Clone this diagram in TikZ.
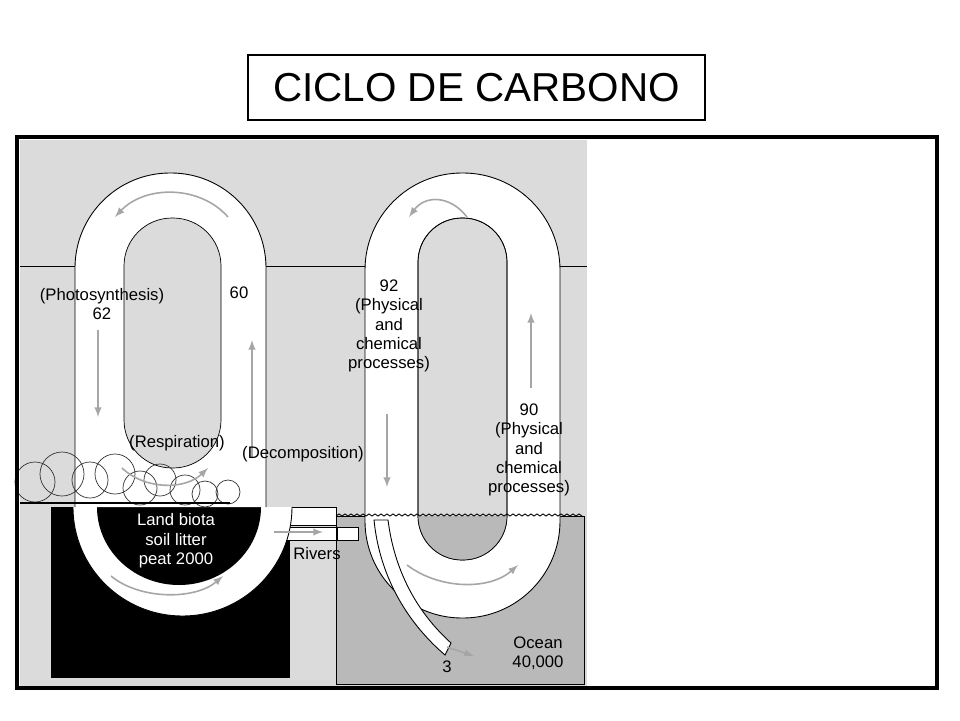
\documentclass[tikz,border=0pt]{standalone}
\usepackage{fontspec}
\setmainfont{Liberation Sans}
\begin{document}
\begin{tikzpicture}[x=0.02cm,y=-0.02cm,
  lbl/.style={font=\fontsize{9.5}{11}\selectfont,inner sep=0pt,align=center},
  flow/.style={gray!70,line width=0.9pt,-latex},
  band/.style={fill=white,draw=black,line width=0.5pt}]
\useasboundingbox (0,0) rectangle (960,720);
% title and frame
\node[draw,line width=1.5pt,minimum width=457*0.02cm,minimum height=65*0.02cm,font=\fontsize{23}{26}\selectfont] (title) at (476.5,87.5) {CICLO DE CARBONO};
\fill[gray!28] (20,140) rectangle (587,686);
\draw[line width=0.5pt] (20,266) -- (587,266);
% ground and ocean
\fill[black] (51,507) rectangle (290,678);
\draw[band] (290,507) rectangle (336,525);
\draw[band] (261,527) rectangle (337,540);
\draw[fill=gray!55] (336,516) rectangle (584,684);
\draw[band] (337,527) rectangle (358,540);
% left loop
\draw[band] (73,507) arc[start angle=180,end angle=0,x radius=109.5,y radius=109];
\fill[black] (97,507) arc[start angle=180,end angle=0,x radius=82,y radius=78] -- cycle;
\draw[band,rounded corners=1.9cm] (75,507) -- (75,173) -- (266,173) -- (266,507);
\draw[fill=gray!28,rounded corners=0.96cm] (124,218) rectangle (221,468);
% right loop
\draw[band,rounded corners=1.94cm] (365,173) rectangle (560,618);
\draw[fill=gray!28,rounded corners=0.88cm] (418,218) rectangle (507,560);
\begin{scope}
  \clip (418,516) rectangle (507,560);
  \fill[gray!55,rounded corners=0.88cm] (418,218) rectangle (507,560);
\end{scope}
\draw[rounded corners=0.88cm] (418,218) rectangle (507,560);
\draw[line width=0.5pt] (336,516) \foreach \i in {1,...,41} {-- ++(3,-2) -- ++(3,2)};
% downwelling tube
\draw[band] (374,520) .. controls (380,580) and (410,625) .. (445,655) -- (451,643) .. controls (420,615) and (395,575) .. (388,520) -- cycle;
% plants
\foreach \cx/\cy/\r in {35/482/20,62/474/22,90/480/18,115/474/20,140/488/17,160/480/16,185/490/15,205/494/13,228/492/12}
  \draw[line width=0.4pt,gray!40!black] (\cx,\cy) circle (\r);
\draw[line width=0.6pt] (20,503) -- (230,503);
% coordinates for flows
\coordinate (p1) at (98,330);  \coordinate (p2) at (98,417);
\coordinate (d1) at (252,458); \coordinate (d2) at (252,340);
\coordinate (o1) at (387,414); \coordinate (o2) at (387,487);
\coordinate (u1) at (531,388); \coordinate (u2) at (531,313);
\coordinate (lt1) at (228,217); \coordinate (lt2) at (115,217);
\coordinate (rt1) at (467,217); \coordinate (rt2) at (409,217);
\coordinate (lb1) at (111,576); \coordinate (lb2) at (223,576);
\coordinate (rb1) at (407,565); \coordinate (rb2) at (518,565);
\coordinate (rs1) at (122,468); \coordinate (rs2) at (208,468);
\coordinate (rv1) at (274,532); \coordinate (rv2) at (323,532);
\coordinate (dw1) at (447,647); \coordinate (dw2) at (474,656);
\draw[flow] (p1) -- (p2);
\draw[flow] (d1) -- (d2);
\draw[flow] (o1) -- (o2);
\draw[flow] (u1) -- (u2);
\draw[flow] (lt1) .. controls (200,185) and (145,185) .. (lt2);
\draw[flow] (rt1) .. controls (450,195) and (425,195) .. (rt2);
\draw[flow] (lb1) .. controls (140,600) and (195,600) .. (lb2);
\draw[flow] (rb1) .. controls (440,590) and (490,590) .. (rb2);
\draw[flow] (rs1) .. controls (145,490) and (185,490) .. (rs2);
\draw[flow] (rv1) -- (rv2);
\draw[flow] (dw1) -- (dw2);
% labels
\node[lbl] (photo) at (102,304) {(Photosynthesis)\\62};
\node[lbl] (sixty) at (239,293) {60};
\node[lbl] (ninetytwo) at (389,326) {92\\(Physical\\and\\chemical\\processes)};
\node[lbl] (ninety) at (529,450) {90\\(Physical\\and\\chemical\\processes)};
\node[lbl] (resp) at (177,443) {(Respiration)};
\node[lbl] (decomp) at (303,454) {(Decomposition)};
\node[lbl,text=white] (biota) at (176,541) {Land biota\\soil litter\\peat 2000};
\node[lbl] (rivers) at (317,554) {Rivers};
\node[lbl] (ocean) at (538,653) {Ocean\\40,000};
\node[lbl] (three) at (447,667) {3};
\draw[line width=2pt] (17,137) rectangle (937,688);
\end{tikzpicture}
\end{document}
